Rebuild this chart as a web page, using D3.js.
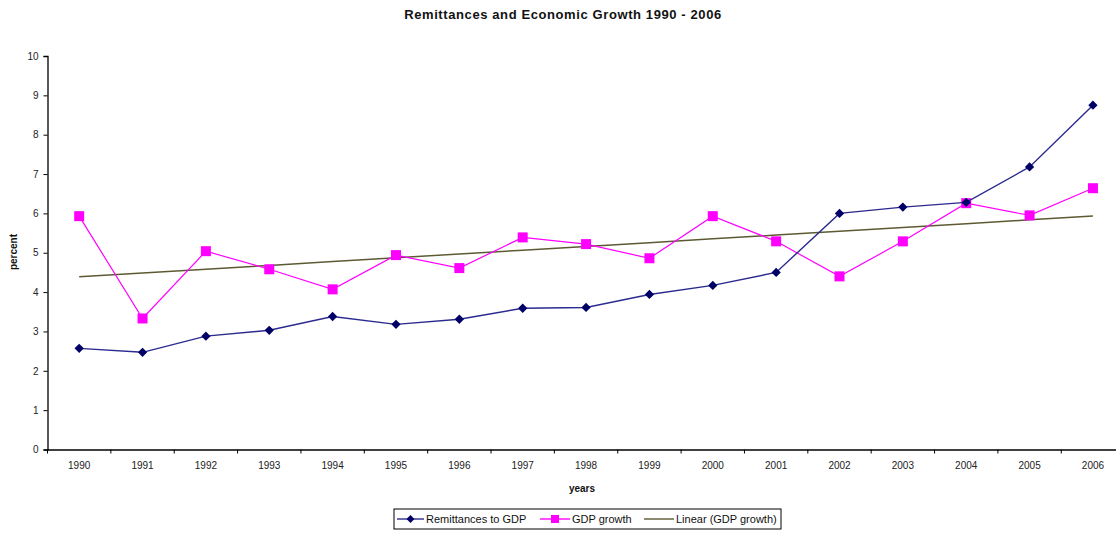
<!DOCTYPE html>
<html><head><meta charset="utf-8">
<script src="https://cdn.jsdelivr.net/npm/d3@7"></script>
<style>
body{margin:0;background:#fff;}
svg{display:block;font-family:"Liberation Sans",Arial,sans-serif;}
</style></head>
<body><svg id="c" width="1116" height="533"></svg>
<script>
const years = ["1990","1991","1992","1993","1994","1995","1996","1997","1998","1999","2000","2001","2002","2003","2004","2005","2006"];
const remittances = [2.57,2.47,2.88,3.03,3.38,3.18,3.31,3.59,3.61,3.94,4.17,4.5,6.0,6.16,6.28,7.18,8.75];
const gdpGrowth = [5.93,3.33,5.04,4.58,4.07,4.94,4.61,5.39,5.22,4.86,5.93,5.29,4.40,5.29,6.26,5.95,6.64];
const yTicks = [0,1,2,3,4,5,6,7,8,9,10];

(function(){
const svg = d3.select("#c");
const padL = 47.5, step = 63.36, padT = 56, padB = 449.5;
const x = d3.scaleBand().domain(years).range([padL, padL + step*years.length]);
const y = d3.scaleLinear().domain([0,10]).range([padB, padT]);
const cx = d => x(d) + x.bandwidth()/2;

// linear trend (least squares) of GDP growth
const n = gdpGrowth.length;
const idx = d3.range(n);
const mx = d3.mean(idx), my = d3.mean(gdpGrowth);
const slope = d3.sum(idx, i => (i-mx)*(gdpGrowth[i]-my)) / d3.sum(idx, i => (i-mx)*(i-mx));
const icpt = my - slope*mx;
const trend = years.map((yr,i) => icpt + slope*i);

// title
svg.append("text").attr("x",563).attr("y",19).attr("text-anchor","middle")
  .attr("font-size",13).attr("font-weight","bold").attr("fill","#111").attr("letter-spacing",0.6)
  .text("Remittances and Economic Growth 1990 - 2006");

// y axis
const ya = svg.append("g").attr("transform",`translate(${padL},0)`)
  .call(d3.axisLeft(y).tickValues(yTicks).tickSize(4).tickPadding(5));
ya.select(".domain").attr("stroke","#000").attr("stroke-width",1.3);
ya.selectAll(".tick line").attr("stroke","#000");
ya.selectAll("text").attr("font-size",10).attr("fill","#222").attr("font-family","Liberation Sans, Arial, sans-serif");

// x axis
const xa = svg.append("g").attr("transform",`translate(0,${padB})`)
  .call(d3.axisBottom(x).tickSize(0).tickPadding(12));
xa.select(".domain").attr("stroke","#000").attr("stroke-width",1.3);
xa.selectAll("text").attr("font-size",10).attr("fill","#222").attr("font-family","Liberation Sans, Arial, sans-serif");
xa.selectAll(".bt").data(years).enter().append("line").attr("class","bt")
  .attr("x1",d=>x(d)).attr("x2",d=>x(d)).attr("y1",0).attr("y2",4).attr("stroke","#000");

// axis titles
svg.append("text").attr("transform","translate(17,252) rotate(-90)").attr("text-anchor","middle")
  .attr("font-size",10).attr("font-weight","bold").attr("fill","#111").text("percent");
svg.append("text").attr("x",582).attr("y",492).attr("text-anchor","middle")
  .attr("font-size",10).attr("font-weight","bold").attr("fill","#111").text("years");

const line = d3.line().x((d,i)=>cx(years[i])).y(d=>y(d));

// trend line
svg.append("path").attr("d",line(trend)).attr("fill","none").attr("stroke","#5c5a32").attr("stroke-width",1.5);

// GDP growth
svg.append("path").attr("d",line(gdpGrowth)).attr("fill","none").attr("stroke","#ff00ff").attr("stroke-width",1.2);
svg.selectAll(".sq").data(gdpGrowth).enter().append("rect")
  .attr("x",(d,i)=>cx(years[i])-5).attr("y",d=>y(d)-5).attr("width",10).attr("height",10).attr("fill","#ff00ff");

// Remittances
svg.append("path").attr("d",line(remittances)).attr("fill","none").attr("stroke","#2a2a8f").attr("stroke-width",1.4);
const dia = d3.symbol().type(d3.symbolDiamond2).size(55);
svg.selectAll(".dm").data(remittances).enter().append("path")
  .attr("d",dia).attr("transform",(d,i)=>`translate(${cx(years[i])},${y(d)})`).attr("fill","#000066");

// legend
const lg = svg.append("g");
lg.append("rect").attr("x",394).attr("y",509).attr("width",387).attr("height",20)
  .attr("fill","#fff").attr("stroke","#000").attr("stroke-width",1);
const items = [
  {label:"Remittances to GDP", color:"#2a2a8f", marker:"diamond", x:397, tx:426},
  {label:"GDP growth", color:"#ff00ff", marker:"square", x:540, tx:572},
  {label:"Linear (GDP growth)", color:"#5c5a32", marker:null, x:644, tx:676}
];
items.forEach(it=>{
  lg.append("line").attr("x1",it.x).attr("x2",it.tx-2).attr("y1",519).attr("y2",519)
    .attr("stroke",it.color).attr("stroke-width",1.4);
  const mxp = (it.x + it.tx - 2)/2;
  if(it.marker==="diamond") lg.append("path").attr("d",d3.symbol().type(d3.symbolDiamond2).size(40))
    .attr("transform",`translate(${mxp},519)`).attr("fill","#000066");
  if(it.marker==="square") lg.append("rect").attr("x",mxp-4).attr("y",515).attr("width",8).attr("height",8).attr("fill","#ff00ff");
  lg.append("text").attr("x",it.tx).attr("y",523).attr("font-size",11).attr("fill","#111").text(it.label);
});
})();
</script></body></html>
